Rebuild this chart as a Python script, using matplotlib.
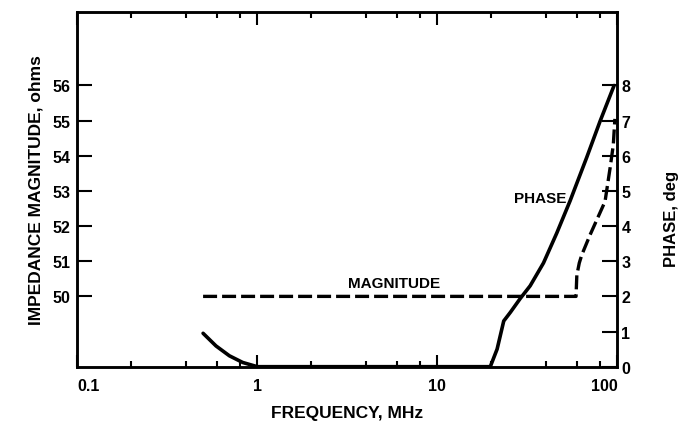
import matplotlib
matplotlib.use('Agg')
import matplotlib.pyplot as plt
from matplotlib.ticker import NullFormatter

# 阻抗相位 (deg) 随频率变化
phase_freq = [0.5, 0.59, 0.70, 0.83, 1.0, 19.7, 21.5, 23.4, 25.5, 28.9, 32.8, 38.9, 46.1, 54.7, 67.6, 80.2, 96.0]
phase_deg = [0.95, 0.59, 0.31, 0.12, 0.0, 0.0, 0.5, 1.3, 1.55, 1.94, 2.3, 2.95, 3.8, 4.72, 5.95, 6.98, 8.0]

# 阻抗幅值 (ohms)
mag_freq = [0.5, 59.0, 59.6, 61.5, 63.5, 70.6, 85.5, 91.2, 95.0, 97.0]
mag_ohm = [50.0, 50.0, 50.6, 50.95, 51.18, 51.75, 52.7, 53.65, 54.3, 55.05]

# 坐标轴刻度
major_f = [0.1, 1, 10, 100]
major_labels = ['0.1', '1', '10', '100']
minor_f = [0.2, 0.4, 0.6, 0.8, 2, 4, 6, 8, 20, 40, 60, 80]
mag_ticks = [50, 51, 52, 53, 54, 55, 56]
phase_ticks = [0, 1, 2, 3, 4, 5, 6, 7, 8]

plt.rcParams['font.family'] = ['Liberation Sans', 'DejaVu Sans']
plt.rcParams['font.weight'] = 'bold'


def draw():
    fig = plt.figure(figsize=(6.79, 4.27), dpi=100)
    ax1 = fig.add_axes([0.1138, 0.1389, 0.7953, 0.8314])
    ax2 = ax1.twinx()

    ax1.set_xscale('log')
    ax1.set_xlim(0.1, 100)
    ax1.set_ylim(48, 58.1)
    ax2.set_ylim(0, 10.1)

    ax1.plot(mag_freq, mag_ohm, color='black', lw=2.4, ls=(0, (4.2, 1.5)), solid_capstyle='butt')
    ax2.plot(phase_freq, phase_deg, color='black', lw=2.6, solid_capstyle='round')

    # 曲线名称
    ax1.text(10.4, 50.39, 'MAGNITUDE', ha='right', va='center', fontsize=11, fontweight='bold')
    ax2.text(52, 4.8, 'PHASE', ha='right', va='center', fontsize=11, fontweight='bold')

    # x轴刻度 (上下都有, 朝内)
    ax1.set_xticks(major_f)
    ax1.set_xticklabels(major_labels)
    ax1.set_xticks(minor_f, minor=True)
    ax1.xaxis.set_minor_formatter(NullFormatter())
    ax1.tick_params(axis='x', which='major', direction='in', top=True, length=9, width=1.5, pad=8, labelsize=11.5)
    ax1.tick_params(axis='x', which='minor', direction='in', top=True, length=4.5, width=1.5)
    tl = ax1.get_xticklabels()
    tl[0].set_horizontalalignment('left')
    tl[-1].set_horizontalalignment('right')

    # y轴刻度
    ax1.set_yticks(mag_ticks)
    ax1.tick_params(axis='y', which='both', direction='in', length=11, width=1.5, pad=5, labelsize=11.5)
    ax1.yaxis.set_minor_locator(plt.NullLocator())
    ax2.set_yticks(phase_ticks)
    ax2.tick_params(axis='y', which='both', direction='in', length=11, width=1.5, pad=3, labelsize=11.5)
    ax2.yaxis.set_minor_locator(plt.NullLocator())

    for ax in (ax1, ax2):
        for s in ax.spines.values():
            s.set_linewidth(1.8)

    ax1.set_xlabel('FREQUENCY, MHz', fontsize=12.5, fontweight='bold')
    ax1.xaxis.set_label_coords(0.5, -0.108)
    ax1.set_ylabel('IMPEDANCE MAGNITUDE, ohms', fontsize=12.5, fontweight='bold')
    ax1.yaxis.set_label_coords(-0.062, 0.5)
    ax2.set_ylabel('PHASE, deg', fontsize=12, fontweight='bold')
    ax2.yaxis.set_label_coords(1.086, 0.42)

    fig.savefig('out.png', dpi=100, facecolor='white')


if __name__ == '__main__':
    draw()
